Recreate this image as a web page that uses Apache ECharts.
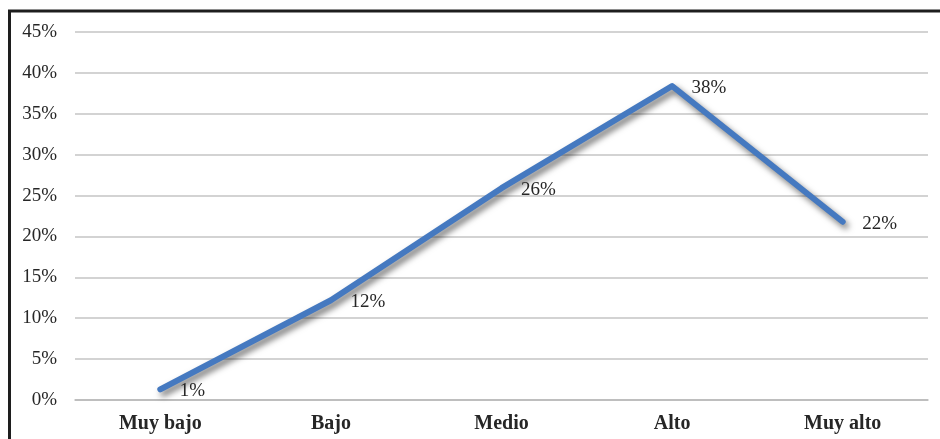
<!DOCTYPE html>
<html>
<head>
<meta charset="utf-8">
<script src="https://cdn.jsdelivr.net/npm/echarts@6/dist/echarts.min.js"></script>
<style>
html,body{margin:0;padding:0;background:#fff;}
#chart{width:940px;height:439px;}
</style>
</head>
<body>
<div id="chart"></div>
<script>
const categories = ['Muy bajo', 'Bajo', 'Medio', 'Alto', 'Muy alto'];
const values = [1.3, 12.2, 25.9, 38.4, 21.8];
const yTicks = { min: 0, max: 45, interval: 5 };

const chart = echarts.init(document.getElementById('chart'), null, { renderer: 'canvas' });
const serif = '"Liberation Serif", "DejaVu Serif", serif';
chart.setOption({
  animation: false,
  backgroundColor: '#fff',
  grid: { left: 75, right: 12, top: 32, bottom: 39 },
  graphic: [
    { type: 'line', shape: { x1: 9.5, y1: 11, x2: 9.5, y2: 439 }, style: { stroke: '#1e1e1e', lineWidth: 3 } },
    { type: 'line', shape: { x1: 8, y1: 11, x2: 940, y2: 11 }, style: { stroke: '#1e1e1e', lineWidth: 3 } }
  ],
  xAxis: {
    type: 'category',
    data: categories,
    boundaryGap: true,
    axisLine: { show: true, lineStyle: { color: '#b8b8b8', width: 1.5 } },
    axisTick: { show: false },
    axisLabel: { fontFamily: serif, fontWeight: 'bold', fontSize: 20, color: '#262626', margin: 14 }
  },
  yAxis: {
    type: 'value',
    min: yTicks.min, max: yTicks.max, interval: yTicks.interval,
    axisLine: { show: false },
    axisTick: { show: false },
    splitLine: { lineStyle: { color: '#c4c4c4', width: 1.5 } },
    axisLabel: { fontFamily: serif, fontSize: 19, color: '#262626', margin: 18, formatter: '{value}%' }
  },
  series: [{
    type: 'line',
    data: values,
    symbol: 'circle',
    symbolSize: 1,
    showSymbol: true,
    itemStyle: { color: 'rgba(0,0,0,0)' },
    lineStyle: {
      color: '#4579c0', width: 6, cap: 'round', join: 'round',
      shadowColor: 'rgba(0,0,0,0.55)', shadowBlur: 6, shadowOffsetX: 3, shadowOffsetY: 4
    },
    label: {
      show: true,
      position: 'right',
      distance: 18,
      offset: [1, 2],
      fontFamily: serif, fontSize: 19, color: '#262626',
      formatter: p => Math.round(p.value) + '%'
    }
  }]
});
</script>
</body>
</html>
